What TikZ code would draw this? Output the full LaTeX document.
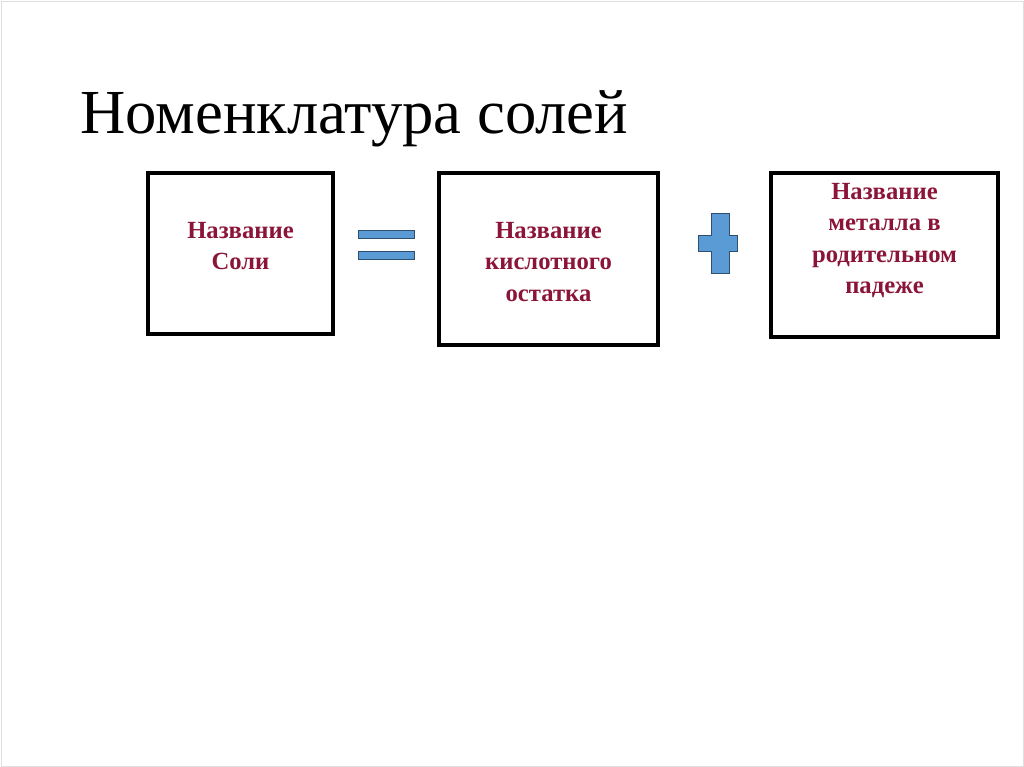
\documentclass[tikz,border=0pt]{standalone}
\usepackage{fontspec}
\setmainfont{Liberation Serif}
\definecolor{txtred}{HTML}{8B1538}
\definecolor{sblue}{HTML}{5B9BD5}
\definecolor{sline}{HTML}{2F4F6F}
\begin{document}
\begin{tikzpicture}[x=0.75pt,y=-0.75pt,
  box/.style={draw=black,line width=2.8pt},
  lbl/.style={font=\bfseries\fontsize{18.5}{23.5}\selectfont,text=txtred,align=center,inner sep=0},
  sym/.style={fill=sblue,draw=sline,line width=0.6pt}]
\useasboundingbox (0,0) rectangle (1024,767);
\draw[gray!25] (1,1) rectangle (1023,766);
\node[anchor=base west,font=\fontsize{47}{52}\selectfont,inner sep=0] (title) at (80,133) {Номенклатура солей};
\draw[box] (148,173) rectangle (333,334);
\draw[box] (439,173) rectangle (658,345);
\draw[box] (771,173) rectangle (998,337);
\node[lbl,anchor=north] (t1) at (240.5,222) {Название\\Соли};
\node[lbl,anchor=north] (t2) at (548.5,222) {Название\\кислотного\\остатка};
\node[lbl,anchor=north] (t3) at (884.5,183) {Название\\металла в\\родительном\\падеже};
\draw[sym] (358,230) rectangle (414,238);
\draw[sym] (358,251) rectangle (414,259);
\draw[sym] (711,213) -- (729,213) -- (729,235) -- (737,235) -- (737,251) -- (729,251) -- (729,273) -- (711,273) -- (711,251) -- (698,251) -- (698,235) -- (711,235) -- cycle;
\end{tikzpicture}
\end{document}
